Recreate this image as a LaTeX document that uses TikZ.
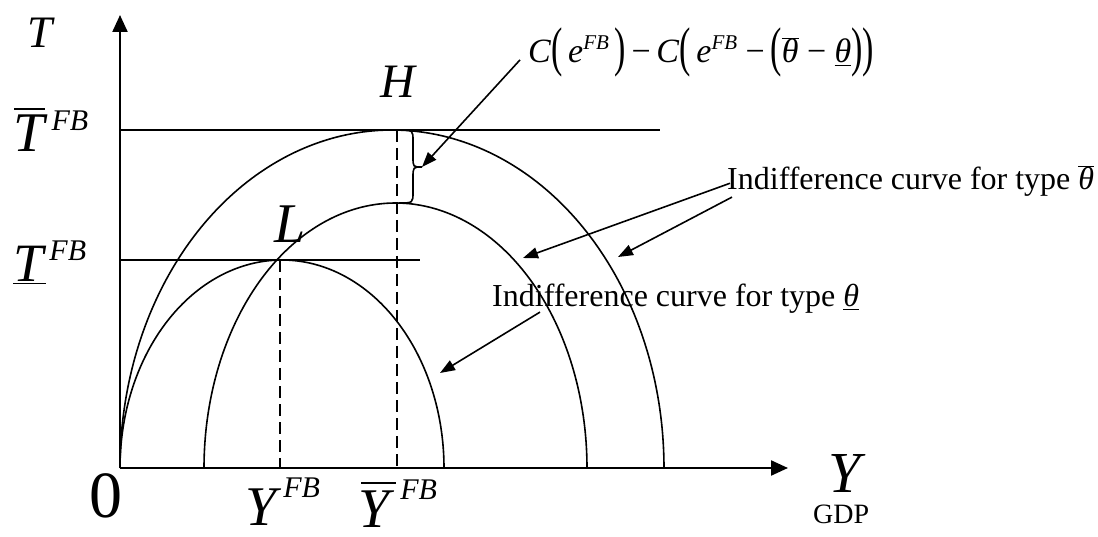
\documentclass[tikz,border=0pt]{standalone}
\usepackage{fontspec}
\setmainfont{Liberation Serif}
\usepackage{graphicx}
\usetikzlibrary{arrows.meta,calc}
\newcommand{\fs}[1]{\fontsize{#1}{#1}\selectfont}
\newcommand{\bpar}[1]{\raisebox{-3pt}{\scalebox{1}[1.6]{#1}}}
\newcommand{\ovl}[1]{$\overline{\hbox{\textit{#1}}}$}
\newcommand{\unl}[1]{$\underline{\hbox{\textit{#1}}}$}
% #1 shift, #2 raise, #3 width, #4 thickness
\newcommand{\obar}[4]{\makebox[0pt][l]{\hspace*{#1}\rule[#2]{#3}{#4}}}
\begin{document}
\begin{tikzpicture}[x=1pt,y=-1pt,
  axis/.style={line width=2.2pt,-{Triangle[length=17pt,width=15pt]}},
  curve/.style={line width=1.6pt},
  guide/.style={line width=1.8pt},
  dash line/.style={line width=1.6pt,dash pattern=on 12pt off 6pt},
  arr/.style={line width=1.6pt,-{Triangle[length=15pt,width=11pt]}},
  lbl/.style={inner sep=0pt,anchor=base west}]
\useasboundingbox (0,0) rectangle (1098,537);
% axes
\coordinate (O) at (120,468);
\coordinate (ytop) at (120,15);
\coordinate (xend) at (788,468);
\draw[axis] (O) -- (ytop);
\draw[axis] (O) -- (xend);
% horizontal guide lines
\coordinate (tb1) at (120,130); \coordinate (tb2) at (660,130);
\coordinate (tl1) at (120,260); \coordinate (tl2) at (420,260);
\draw[guide] (tb1) -- (tb2);
\draw[guide] (tl1) -- (tl2);
% dashed lines
\coordinate (Lp) at (280,260); \coordinate (Lb) at (280,468);
\coordinate (Hp) at (397,130); \coordinate (Hb) at (397,468);
\draw[dash line] (Lp) -- (Lb);
\draw[dash line] (Hp) -- (Hb);
% indifference curves
\draw[curve] plot[domain=180:0,samples=160] ({392+272*cos(\x)},{468-338*sin(\x)});
\draw[curve] plot[domain=180:0,samples=160] ({395.5+191.5*cos(\x)},{468-265*sin(\x)});
\draw[curve] plot[domain=180:0,samples=160] ({282+162*cos(\x)},{468-208*sin(\x)});
% brace
\draw[curve] (399,130) .. controls (413,130) .. (413,141) -- (413,157)
  .. controls (413,167) .. (422,167) .. controls (413,167) .. (413,178)
  -- (413,192) .. controls (413,203) .. (399,203);
\coordinate (bt) at (422,167);
% labels
\node[lbl] (Tl) at (27,48) {\fs{45}\textit{T}};
\node[lbl] (Tbar) at (13,152) {\fs{56}\obar{1pt}{42pt}{31pt}{2.2pt}\textit{T}\hspace{4pt}\raisebox{21pt}{\fs{30}\textit{FB}}};
\node[lbl] (Tund) at (13,282) {\fs{54}\unl{T}\hspace{3pt}\raisebox{21pt}{\fs{30}\textit{FB}}};
\node[lbl] (zero) at (89,517) {\fs{66}0};
\node[lbl] (YFB) at (245,525) {\fs{56}\textit{Y}\hspace{2pt}\raisebox{28pt}{\fs{30}\textit{FB}}};
\node[lbl] (YbFB) at (358,527) {\fs{56}\obar{3pt}{43pt}{35pt}{2.2pt}\textit{Y}\hspace{6pt}\raisebox{28pt}{\fs{30}\textit{FB}}};
\node[lbl] (Yax) at (828,492) {\fs{58}\textit{Y}};
\node[lbl] (gdp) at (813,523) {\fs{28}GDP};
\node[lbl] (H) at (380,98) {\fs{48}\textit{H}};
\node[lbl] (L) at (274,243) {\fs{56}\textit{L}};
\node[lbl] (form) at (528,63) {\fs{34}\textit{C}\bpar{(}\,\textit{e}\raisebox{13pt}{\fs{21}\textit{FB}}\,\bpar{)}\,−\,\textit{C}\bpar{(}\,\textit{e}\raisebox{13pt}{\fs{21}\textit{FB}}\ −\,\bpar{(}\ovl{θ}\ −\ \unl{θ}\bpar{)}\bpar{)}};
\node[lbl] (lab1) at (727,190) {\fs{32}Indifference curve for type \ovl{θ}};
\node[lbl] (lab2) at (492,307) {\fs{32}Indifference curve for type \unl{θ}};
% arrows
\coordinate (t1) at (523,258);
\coordinate (t2) at (618,257);
\coordinate (t3) at (440,373);
\draw[arr] ([xshift=-8pt,yshift=-7pt]form.west) -- (bt);
\draw[arr] ([xshift=3pt,yshift=-2pt]lab1.west) -- (t1);
\draw[arr] ([xshift=5pt]lab1.south west) -- (t2);
\draw[arr] ([xshift=48pt,yshift=2pt]lab2.south west) -- (t3);
\end{tikzpicture}
\end{document}
